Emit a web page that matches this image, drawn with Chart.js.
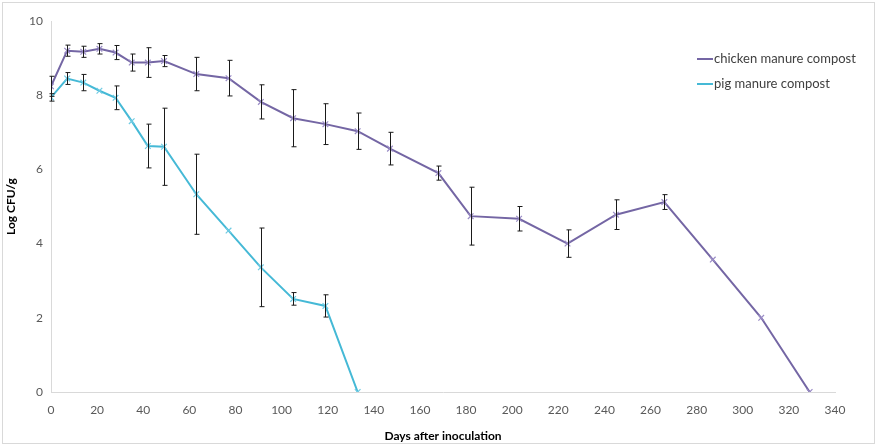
<!DOCTYPE html>
<html>
<head>
<meta charset="utf-8">
<script src="https://cdn.jsdelivr.net/npm/chart.js@4/dist/chart.umd.min.js"></script>
<style>
  html, body { margin: 0; padding: 0; background: #fff; }
  #wrap { width: 877px; height: 447px; }
</style>
</head>
<body>
<div id="wrap"><canvas id="chart" width="877" height="447"></canvas></div>
<script>
// Data
const chickenDays = [0, 7, 14, 21, 28, 35, 42, 49, 63, 77, 91, 105, 119, 133, 147, 168, 182, 203, 224, 245, 266, 287, 308, 329];
const chickenLog = [8.24, 9.2, 9.17, 9.25, 9.15, 8.88, 8.88, 8.92, 8.57, 8.46, 7.82, 7.38, 7.22, 7.03, 6.56, 5.9, 4.74, 4.67, 4.0, 4.78, 5.12, 3.57, 2.0, 0];
const chickenErr = [0.27, 0.15, 0.15, 0.14, 0.19, 0.23, 0.4, 0.15, 0.45, 0.48, 0.46, 0.77, 0.55, 0.49, 0.44, 0.19, 0.78, 0.33, 0.37, 0.4, 0.2, 0, 0, 0];

const pigDays = [0, 7, 14, 21, 28, 35, 42, 49, 63, 77, 91, 105, 119, 133];
const pigLog = [7.94, 8.45, 8.34, 8.12, 7.93, 7.3, 6.63, 6.61, 5.33, 4.35, 3.36, 2.51, 2.32, 0];
const pigErr = [0.1, 0.16, 0.22, 0, 0.32, 0, 0.59, 1.04, 1.08, 0, 1.06, 0.17, 0.3, 0];

const seriesNames = ["chicken manure compost", "pig manure compost"];
const seriesColors = ["#7466a4", "#45b9d6"];

const FONT = "Lato, 'Open Sans', sans-serif";

function toPoints(xs, ys, es) {
  return xs.map((x, i) => ({ x: x, y: ys[i], err: es[i] }));
}

// error bars, drawn through the chart scales
const errorBars = {
  id: "errorBars",
  afterDatasetsDraw(chart) {
    const ctx = chart.ctx;
    const xs = chart.scales.x, ys = chart.scales.y;
    ctx.save();
    ctx.strokeStyle = "#1a1a1a";
    ctx.lineWidth = 1;
    chart.data.datasets.forEach((ds) => {
      ds.data.forEach((p) => {
        if (!p.err) return;
        const px = Math.round(xs.getPixelForValue(p.x)) + 0.5;
        const top = ys.getPixelForValue(p.y + p.err);
        const bot = ys.getPixelForValue(p.y - p.err);
        ctx.beginPath();
        ctx.moveTo(px, top); ctx.lineTo(px, bot);
        ctx.moveTo(px - 2, top); ctx.lineTo(px + 3, top);
        ctx.moveTo(px - 2, bot); ctx.lineTo(px + 3, bot);
        ctx.stroke();
      });
    });
    ctx.restore();
  },
};

// legend and outer frame
const decor = {
  id: "decor",
  afterDraw(chart) {
    const ctx = chart.ctx;
    ctx.save();
    ctx.strokeStyle = "#d9d9d9";
    ctx.lineWidth = 1;
    ctx.strokeRect(2.5, 2.5, 872, 441);
    ctx.font = "13px " + FONT;
    ctx.textBaseline = "middle";
    ctx.fillStyle = "#404040";
    seriesNames.forEach((name, i) => {
      const y = 59 + i * 25;
      ctx.strokeStyle = seriesColors[i];
      ctx.lineWidth = 2;
      ctx.beginPath();
      ctx.moveTo(697, y); ctx.lineTo(713, y);
      ctx.stroke();
      ctx.fillText(name, 714, y);
    });
    ctx.restore();
  },
};

new Chart(document.getElementById("chart"), {
  type: "line",
  data: {
    datasets: [
      {
        label: seriesNames[0],
        data: toPoints(chickenDays, chickenLog, chickenErr),
        borderColor: seriesColors[0],
        borderWidth: 2,
        pointStyle: "crossRot",
        pointRadius: 4,
        pointBorderWidth: 1.2,
        pointBorderColor: "#9a8cc6",
        tension: 0,
      },
      {
        label: seriesNames[1],
        data: toPoints(pigDays, pigLog, pigErr),
        borderColor: seriesColors[1],
        borderWidth: 2,
        pointStyle: "crossRot",
        pointRadius: 4,
        pointBorderWidth: 1.2,
        pointBorderColor: "#6fcbe3",
        tension: 0,
      },
    ],
  },
  options: {
    responsive: false,
    animation: false,
    layout: { padding: { top: 21, right: 42, left: 0, bottom: 0 } },
    plugins: { legend: { display: false }, tooltip: { enabled: false } },
    scales: {
      x: {
        type: "linear",
        min: 0,
        max: 340,
        ticks: { stepSize: 20, color: "#595959", font: { family: FONT, size: 12 }, padding: 11, maxRotation: 0 },
        grid: { display: false, drawTicks: false },
        border: { color: "#d9d9d9", width: 1 },
        title: { display: true, text: "Days after inoculation", color: "#000", font: { family: FONT, size: 12, weight: "bold" }, padding: { top: 4 } },
        afterFit(s) { s.height = 55; },
      },
      y: {
        min: 0,
        max: 10,
        ticks: { stepSize: 2, color: "#595959", font: { family: FONT, size: 12 }, padding: 8 },
        grid: { display: false, drawTicks: false },
        border: { color: "#d9d9d9", width: 1 },
        title: { display: true, text: "Log CFU/g", color: "#000", font: { family: FONT, size: 12, weight: "bold" }, padding: { bottom: 4 } },
        afterFit(s) { s.width = 51; },
      },
    },
  },
  plugins: [errorBars, decor],
});
</script>
</body>
</html>
